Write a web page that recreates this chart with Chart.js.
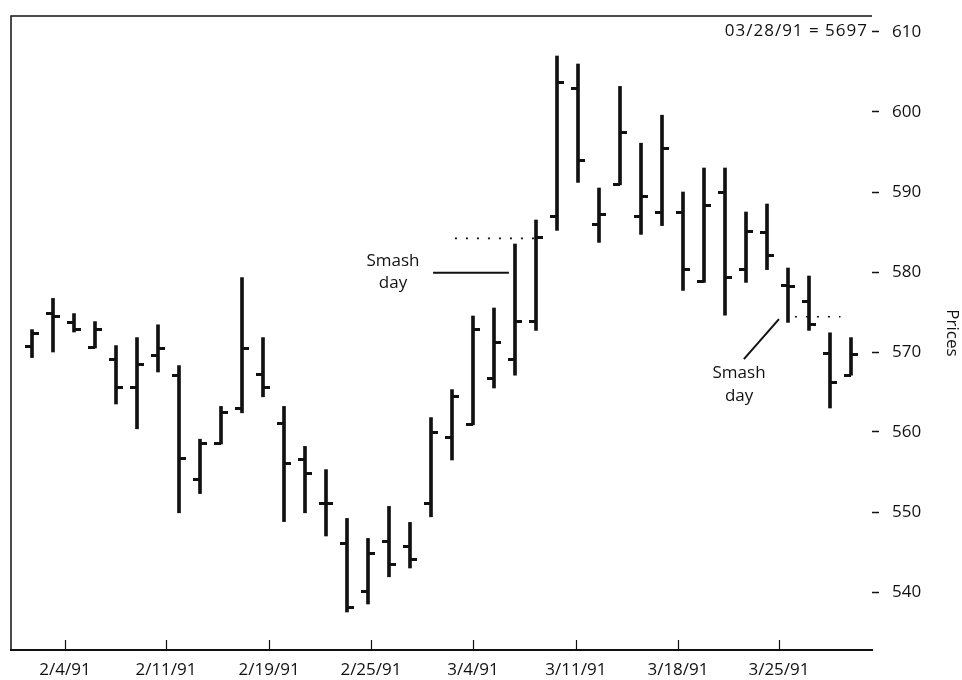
<!DOCTYPE html>
<html>
<head>
<meta charset="utf-8">
<title>Smash day bars</title>
<script src="https://cdn.jsdelivr.net/npm/chart.js@4.4.1/dist/chart.umd.min.js"></script>
<style>
  html, body { margin: 0; padding: 0; background: #fff; }
  #wrap { width: 962px; height: 680px; }
</style>
</head>
<body>
<div id="wrap"><canvas id="priceChart" width="962" height="680"></canvas></div>
<script>
// daily bars, 1/31/91 .. 3/28/91
const opens  = [570.7, 574.8, 573.7, 570.6, 569.1, 565.6, 569.6, 567.1, 554.1, 558.6,
                562.9, 567.2, 561.1, 556.6, 551.1, 546.1, 540.1, 546.3, 545.7, 551.1,
                559.3, 561.0, 566.7, 569.1, 573.8, 586.9, 603.0, 586.0, 590.9, 586.9,
                587.4, 587.4, 578.8, 589.9, 580.3, 584.9, 578.3, 576.3, 569.8, 567.1];
const highs  = [572.8, 576.7, 574.8, 573.8, 570.8, 571.8, 573.4, 568.3, 559.1, 563.2,
                579.3, 571.8, 563.2, 558.2, 555.3, 549.2, 546.7, 550.7, 548.7, 561.8,
                565.3, 574.5, 575.5, 583.5, 586.5, 607.0, 606.0, 590.5, 603.2, 596.1,
                599.6, 590.0, 593.0, 593.0, 587.5, 588.5, 580.5, 579.5, 572.4, 571.8];
const lows   = [569.3, 570.0, 572.5, 570.5, 563.5, 560.4, 567.5, 549.9, 552.3, 558.5,
                562.4, 564.4, 548.8, 549.9, 547.0, 537.5, 538.5, 541.9, 543.0, 549.4,
                556.5, 560.9, 565.5, 567.1, 572.7, 585.2, 591.2, 583.7, 590.9, 584.7,
                585.8, 577.7, 578.7, 574.6, 578.7, 580.3, 573.7, 572.7, 563.0, 567.1];
const closes = [572.3, 574.4, 572.8, 572.8, 565.6, 568.5, 570.5, 556.7, 558.6, 562.4,
                570.5, 565.6, 556.1, 554.8, 551.1, 538.1, 544.8, 543.5, 544.1, 560.0,
                564.4, 572.8, 571.2, 573.8, 584.3, 603.7, 593.9, 587.2, 597.5, 589.4,
                595.5, 580.3, 588.3, 579.3, 585.1, 582.1, 578.2, 573.5, 566.2, 569.7];

const yTicks = [540, 550, 560, 570, 580, 590, 600, 610];
const tickDays = [1.57, 6.38, 11.29, 16.14, 21.0, 25.9, 30.76, 35.57];
const tickLabels = ['2/4/91', '2/11/91', '2/19/91', '2/25/91', '3/4/91', '3/11/91', '3/18/91', '3/25/91'];
const lastNote = '03/28/91 = 5697';

// annotations, in (bar index, price)
const smashLeft  = { text: [17.19, 581.3, 578.6], line: [19.1, 579.9, 22.71, 579.9], dots: [20.14, 24.0, 584.2] };
const smashRight = { text: [33.67, 567.4, 564.5], line: [33.9, 569.1, 35.57, 574.1], dots: [36.33, 38.5, 574.4] };

const INK = '#111';
const FONT = '"Open Sans", "DejaVu Sans", sans-serif';
Chart.defaults.font.family = FONT;
Chart.defaults.font.size = 17;
Chart.defaults.color = INK;

// little open / close ticks used as point styles
function makeTick(side) {
    const c = document.createElement('canvas');
    c.width = 14; c.height = 3;
    const g = c.getContext('2d');
    g.fillStyle = INK;
    g.fillRect(side === 'left' ? 0 : 7, 0, 7, 3);
    return c;
}
const openTick = makeTick('left');
const closeTick = makeTick('right');

const framePlugin = {
    id: 'frame',
    afterDraw(chart) {
        const { ctx, chartArea: a, scales } = chart;
        ctx.save();
        ctx.strokeStyle = INK;
        ctx.lineWidth = 1.5;
        ctx.beginPath();
        ctx.moveTo(a.left, a.bottom);
        ctx.lineTo(a.left, a.top);
        ctx.lineTo(a.right, a.top);
        ctx.stroke();
        // short ticks pointing up from the date axis
        ctx.lineWidth = 1.2;
        scales.x.ticks.forEach(t => {
            const px = Math.round(scales.x.getPixelForValue(t.value)) + 0.5;
            ctx.beginPath();
            ctx.moveTo(px, a.bottom);
            ctx.lineTo(px, a.bottom - 10);
            ctx.stroke();
        });
        ctx.restore();
    }
};

const notesPlugin = {
    id: 'notes',
    afterDraw(chart) {
        const { ctx, chartArea: a } = chart;
        const x = chart.scales.x, y = chart.scales.y;
        ctx.save();
        ctx.fillStyle = INK;
        ctx.strokeStyle = INK;
        ctx.font = '17px ' + FONT;

        ctx.textAlign = 'right';
        ctx.textBaseline = 'alphabetic';
        ctx.letterSpacing = '1px';
        ctx.fillText(lastNote, a.right - 4, y.getPixelForValue(610) + 4);
        ctx.letterSpacing = '0px';

        [smashLeft, smashRight].forEach(n => {
            ctx.textAlign = 'center';
            ctx.textBaseline = 'middle';
            const tx = x.getPixelForValue(n.text[0]);
            ctx.fillText('Smash', tx, y.getPixelForValue(n.text[1]));
            ctx.fillText('day', tx, y.getPixelForValue(n.text[2]));

            ctx.setLineDash([]);
            ctx.lineWidth = 2;
            ctx.beginPath();
            ctx.moveTo(x.getPixelForValue(n.line[0]), y.getPixelForValue(n.line[1]));
            ctx.lineTo(x.getPixelForValue(n.line[2]), y.getPixelForValue(n.line[3]));
            ctx.stroke();

            ctx.lineWidth = 1.6;
            ctx.setLineDash([2, 9]);
            const dy = y.getPixelForValue(n.dots[2]);
            ctx.beginPath();
            ctx.moveTo(x.getPixelForValue(n.dots[0]), dy);
            ctx.lineTo(x.getPixelForValue(n.dots[1]), dy);
            ctx.stroke();
        });
        ctx.restore();
    }
};

new Chart(document.getElementById('priceChart'), {
    type: 'bar',
    data: {
        datasets: [
            {
                type: 'scatter',
                data: opens.map((v, i) => ({ x: i, y: v })),
                pointStyle: openTick,
                pointRadius: 7,
                showLine: false
            },
            {
                type: 'scatter',
                data: closes.map((v, i) => ({ x: i, y: v })),
                pointStyle: closeTick,
                pointRadius: 7,
                showLine: false
            },
            {
                type: 'bar',
                data: lows.map((v, i) => ({ x: i, y: [v, highs[i]] })),
                backgroundColor: INK,
                borderWidth: 0,
                barThickness: 3
            }
        ]
    },
    options: {
        responsive: false,
        animation: false,
        events: [],
        layout: { padding: { top: 16, left: 11, right: 0, bottom: 0 } },
        plugins: {
            legend: { display: false },
            tooltip: { enabled: false }
        },
        scales: {
            x: {
                type: 'linear',
                offset: false,
                min: -1,
                max: 40,
                afterBuildTicks: s => { s.ticks = tickDays.map(v => ({ value: v })); },
                afterFit: s => { s.height = 30; s.paddingLeft = 0; s.paddingRight = 0; },
                grid: { display: false, offset: false },
                border: { display: true, color: INK, width: 2 },
                ticks: {
                    autoSkip: false,
                    maxRotation: 0,
                    padding: 2,
                    color: INK,
                    callback: (v, i) => tickLabels[i]
                }
            },
            y: {
                position: 'right',
                min: 532.75,
                max: 612,
                afterBuildTicks: s => { s.ticks = yTicks.map(v => ({ value: v })); },
                afterFit: s => { s.width = 90; s.paddingTop = 0; s.paddingBottom = 0; },
                grid: { drawOnChartArea: false, tickLength: 7, tickColor: INK, tickWidth: 1.5 },
                border: { display: false },
                ticks: { padding: 13, color: INK },
                title: { display: true, text: 'Prices', padding: 0, color: INK }
            }
        }
    },
    plugins: [framePlugin, notesPlugin]
});
</script>
</body>
</html>
